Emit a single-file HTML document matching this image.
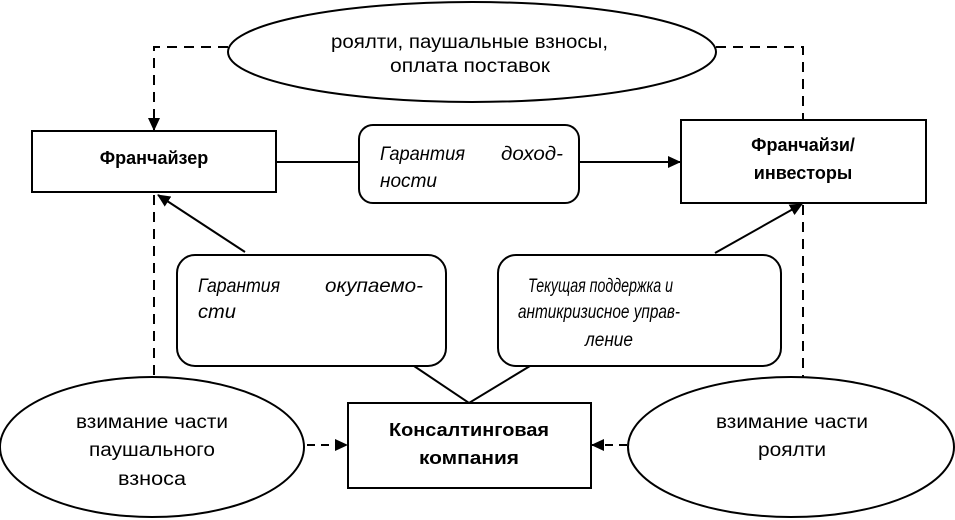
<!DOCTYPE html>
<html><head><meta charset="utf-8"><style>
html,body{margin:0;padding:0;background:#fff;}
svg{display:block;}
text{font-family:"Liberation Sans",sans-serif;font-size:19px;fill:#000;}
.b{font-weight:bold;font-size:18px;}
.i{font-style:italic;}
</style></head><body>
<svg width="955" height="520" viewBox="0 0 955 520" xmlns="http://www.w3.org/2000/svg">
<defs>
<marker id="a" markerWidth="13" markerHeight="12" refX="12" refY="6" orient="auto" markerUnits="userSpaceOnUse">
<path d="M0,0 L13,6 L0,12 z" fill="#000"/></marker>
</defs>
<g stroke="#000" fill="none" stroke-width="2">
<path d="M228,47 H154 V130" stroke-dasharray="10,7" marker-end="url(#a)"/>
<path d="M716,47 H803 V120" stroke-dasharray="10,7"/>
<path d="M154,195 V377" stroke-dasharray="10,7"/>
<path d="M803,205 V377" stroke-dasharray="10,7"/>
<path d="M307,445 H347" stroke-dasharray="8,6" marker-end="url(#a)"/>
<path d="M627,445 H592" stroke-dasharray="8,6" marker-end="url(#a)"/>
<path d="M276,162 H359"/>
<path d="M579,162 H680" marker-end="url(#a)"/>
<path d="M245,252 L158,195" marker-end="url(#a)"/>
<path d="M715,253 L802,204" marker-end="url(#a)"/>
<path d="M414,366 L469,403 L530,366"/>
<ellipse cx="472" cy="52" rx="244" ry="50" fill="#fff"/>
<rect x="32" y="131" width="244" height="61" fill="#fff"/>
<rect x="359" y="125" width="220" height="78" rx="14" fill="#fff"/>
<rect x="681" y="120" width="245" height="83" fill="#fff"/>
<rect x="177" y="255" width="269" height="111" rx="18" fill="#fff"/>
<rect x="498" y="255" width="283" height="111" rx="18" fill="#fff"/>
<rect x="348" y="403" width="243" height="85" fill="#fff"/>
<ellipse cx="152" cy="447" rx="152" ry="70" fill="#fff"/>
<ellipse cx="791" cy="447" rx="163" ry="70" fill="#fff"/>
</g>
<text x="331" y="48" textLength="277" lengthAdjust="spacingAndGlyphs">роялти, паушальные взносы,</text>
<text x="390" y="72" textLength="160" lengthAdjust="spacingAndGlyphs">оплата поставок</text>
<text class="b" x="154" y="164" text-anchor="middle">Франчайзер</text>
<text class="b" x="803" y="151" text-anchor="middle">Франчайзи/</text>
<text class="b" x="803" y="179" text-anchor="middle">инвесторы</text>
<text class="i" x="380" y="160" textLength="85" lengthAdjust="spacingAndGlyphs">Гарантия</text>
<text class="i" x="501" y="160" textLength="62" lengthAdjust="spacingAndGlyphs">доход-</text>
<text class="i" x="380" y="187" textLength="57" lengthAdjust="spacingAndGlyphs">ности</text>
<text class="i" x="198" y="292" textLength="82" lengthAdjust="spacingAndGlyphs">Гарантия</text>
<text class="i" x="325" y="292" textLength="98" lengthAdjust="spacingAndGlyphs">окупаемо-</text>
<text class="i" x="198" y="318" textLength="38" lengthAdjust="spacingAndGlyphs">сти</text>
<text class="i" x="528" y="292" textLength="145" lengthAdjust="spacingAndGlyphs">Текущая поддержка и</text>
<text class="i" x="518" y="318" textLength="162" lengthAdjust="spacingAndGlyphs">антикризисное управ-</text>
<text class="i" x="585" y="346" textLength="48" lengthAdjust="spacingAndGlyphs">ление</text>
<text class="b" x="389" y="436" textLength="160" lengthAdjust="spacingAndGlyphs">Консалтинговая</text>
<text class="b" x="419" y="464" textLength="100" lengthAdjust="spacingAndGlyphs">компания</text>
<text x="76" y="428" textLength="152" lengthAdjust="spacingAndGlyphs">взимание части</text>
<text x="89" y="456" textLength="126" lengthAdjust="spacingAndGlyphs">паушального</text>
<text x="118" y="485" textLength="68" lengthAdjust="spacingAndGlyphs">взноса</text>
<text x="716" y="428" textLength="152" lengthAdjust="spacingAndGlyphs">взимание части</text>
<text x="758" y="456" textLength="68" lengthAdjust="spacingAndGlyphs">роялти</text>
</svg>
</body></html>
